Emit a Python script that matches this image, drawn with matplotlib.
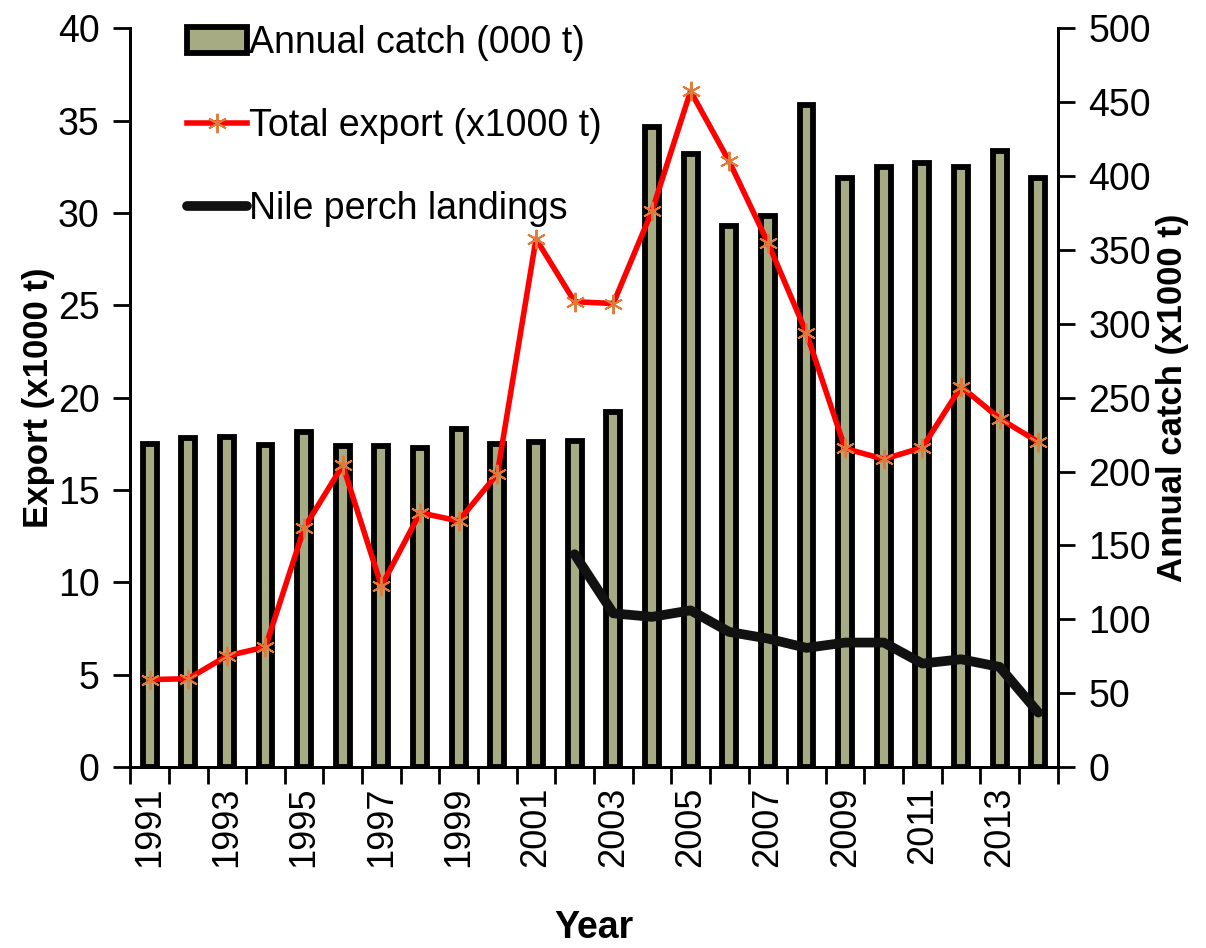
import matplotlib
matplotlib.use('Agg')
import matplotlib.pyplot as plt
import numpy as np

years = list(range(1991, 2015))
# annual catch (x1000 t), right axis
catch = [218.5, 223, 223.5, 218, 226.5, 217.5, 217.5, 216, 228.5, 218.5, 220, 221,
         240.5, 433, 415, 366, 373, 448, 399, 406, 409, 406, 417, 399]
# total export (x1000 t), left axis
export = [4.73, 4.78, 6.01, 6.50, 12.94, 16.34, 9.80, 13.77, 13.32, 15.88, 28.6, 25.2,
          25.1, 30.1, 36.6, 32.8, 28.4, 23.5, 17.25, 16.67, 17.3, 20.6, 18.87, 17.6]
# Nile perch landings (x1000 t), from 2002
perch_years = list(range(2002, 2015))
perch = [144, 104, 101.6, 106, 91.4, 86.9, 80.6, 84.2, 84.2, 70, 72.9, 67.7, 36.8]

plt.rcParams['font.family'] = ['Liberation Sans', 'DejaVu Sans']

fig = plt.figure(figsize=(12.06, 9.48), dpi=100)
ax = fig.add_axes([0.108, 0.191, 0.769, 0.779])
ax2 = ax.twinx()
ax3 = ax.twinx()

x = np.arange(len(years))
bars = ax2.bar(x, catch, width=0.36, color='#a7ab83', edgecolor='black', linewidth=4.2,
               label='Annual catch (000 t)')
ln1, = ax.plot(x, export, color='red', lw=4, marker=(6, 2, 0), markersize=14,
               markeredgecolor='#e07a3a', markeredgewidth=1.4, label='Total export (x1000 t)')
px = [years.index(y) for y in perch_years]
ln2, = ax3.plot(px, perch, color='#111111', lw=7, solid_capstyle='round',
                solid_joinstyle='round', label='Nile perch landings')

# draw lines above the bars
ax2.set_zorder(0)
ax.set_zorder(1)
ax3.set_zorder(2)
ax.patch.set_visible(False)
ax3.patch.set_visible(False)

ax.set_xlim(-0.5, len(years) - 0.5)
ax.set_ylim(0, 40)
ax2.set_ylim(0, 500)
ax3.set_ylim(0, 500)
ax3.axis('off')

ax.set_yticks(range(0, 41, 5))
ax2.set_yticks(range(0, 501, 50))
ax.set_xticks(np.arange(-0.5, len(years), 1))
ax.set_xticklabels([])
ax.set_xticks(x[::2], minor=True)
ax.set_xticklabels([str(y) for y in years[::2]], minor=True, rotation=90, fontsize=26)
ax.tick_params(axis='x', which='minor', length=0, pad=14)
ax.tick_params(axis='x', which='major', direction='out', length=12, width=2)
ax.tick_params(axis='y', direction='out', length=12, width=2, labelsize=27, pad=10)
ax2.tick_params(axis='y', direction='out', length=12, width=2, labelsize=27, pad=10)

for a in (ax, ax2):
    a.spines['top'].set_visible(False)
    for s in ('left', 'right', 'bottom'):
        a.spines[s].set_linewidth(2)

ax.set_ylabel('Export (x1000 t)', fontsize=25, fontweight='bold', labelpad=2)
ax2.set_ylabel('Annual catch (x1000 t)', fontsize=25, fontweight='bold', labelpad=4)
ax.set_xlabel('Year', fontsize=27, fontweight='bold', labelpad=31)

ax.legend([bars, ln1, ln2], ['Annual catch (000 t)', 'Total export (x1000 t)', 'Nile perch landings'],
          loc='upper left', bbox_to_anchor=(0.025, 1.05), frameon=False, fontsize=27,
          handlelength=1.6, handletextpad=0.05, labelspacing=1.25)

plt.savefig('out.png', dpi=100)
